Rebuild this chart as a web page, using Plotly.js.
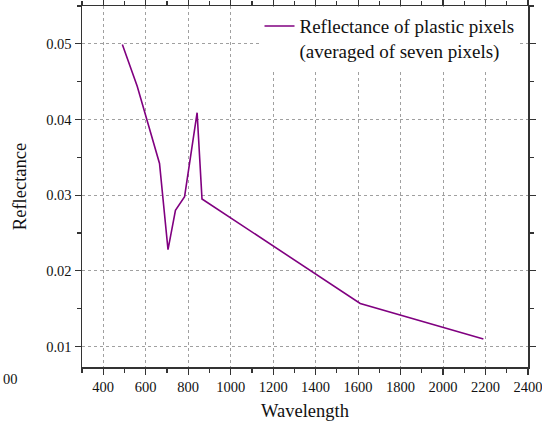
<!DOCTYPE html>
<html>
<head>
<meta charset="utf-8">
<script src="https://cdn.plot.ly/plotly-3.0.1.min.js"></script>
<style>html,body{margin:0;padding:0;background:#fff;}#chart{width:542px;height:423px;}</style>
</head>
<body>
<div id="chart"></div>
<script>
const wavelength = [490, 560, 665, 705, 740, 783, 842, 865, 1610, 2190];
const reflectance = [0.0499, 0.0444, 0.0342, 0.0228, 0.0280, 0.0298, 0.0409, 0.0295, 0.0157, 0.0110];
const seriesName = 'Reflectance of plastic pixels<br>(averaged of seven pixels)';
const xTitle = 'Wavelength';
const yTitle = 'Reflectance';

const font = {family: 'Liberation Serif, Times New Roman, serif', color: '#111', size: 14.5};

const trace = {
  x: wavelength, y: reflectance, type: 'scatter', mode: 'lines',
  name: seriesName,
  line: {color: '#800080', width: 1.6}
};

const axisCommon = {
  showline: true, linecolor: '#333', linewidth: 1.5, mirror: 'allticks',
  ticks: 'outside', ticklen: 6, tickwidth: 1.2, tickcolor: '#333',
  showgrid: true, gridcolor: '#a0a0a0', griddash: 'dot', gridwidth: 1,
  zeroline: false, tickfont: {size: 14.5}, ticklabeloverflow: 'allow'
};

const layout = {
  width: 542, height: 423,
  margin: {l: 82, r: 14, t: 6, b: 56, autoexpand: false},
  paper_bgcolor: '#fff', plot_bgcolor: '#fff',
  font: font,
  showlegend: true,
  legend: {x: 0.398, xanchor: 'left', y: 0.997, yanchor: 'top', bgcolor: '#fff',
           font: {size: 19}, borderwidth: 0, tracegroupgap: 0, valign: 'top'},
  xaxis: Object.assign({}, axisCommon, {
    range: [300, 2400], dtick: 200, tick0: 0,
    minor: {ticks: 'outside', dtick: 100, tick0: 0, ticklen: 4, tickcolor: '#333', showgrid: false},
    title: {text: xTitle, font: {size: 18.5}, standoff: 10}
  }),
  yaxis: Object.assign({}, axisCommon, {
    range: [0.0073, 0.055], dtick: 0.01, tick0: 0, tickformat: '.2f',
    minor: {ticks: 'outside', dtick: 0.005, tick0: 0, ticklen: 4, tickcolor: '#333', showgrid: false},
    title: {text: yTitle, font: {size: 18.5}, standoff: 14}
  }),
  annotations: [{
    text: '00', xref: 'paper', yref: 'paper', x: -0.182, y: -0.034,
    xanchor: 'left', yanchor: 'middle', showarrow: false, font: {size: 14.5}
  }]
};

Plotly.newPlot('chart', [trace], layout, {displayModeBar: false, staticPlot: true});
</script>
</body>
</html>
